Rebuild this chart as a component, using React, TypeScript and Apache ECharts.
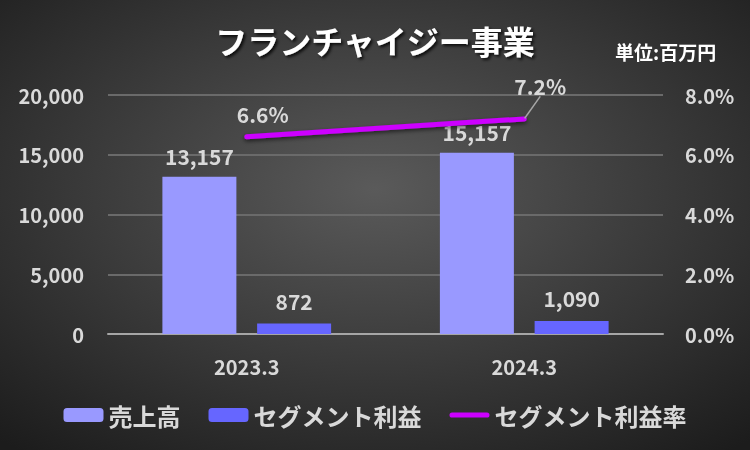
import React, { useEffect, useRef } from "react";
import * as echarts from "echarts";

const categories = ["2023.3", "2024.3"];
const salesValues = [13157, 15157];
const profitValues = [872, 1090];
const rateValues = [6.6, 7.2];
const seriesNames = ["売上高", "セグメント利益", "セグメント利益率"];

const FONT = "'Noto Sans CJK JP', 'Noto Sans', sans-serif";
const TXT = "#d9d9d9";

export default function App() {
  const ref = useRef<HTMLDivElement>(null);
  useEffect(() => {
    const chart = echarts.init(ref.current!, null, { renderer: "svg" });
    chart.setOption({
      animation: false,
      backgroundColor: new echarts.graphic.RadialGradient(0.5, 0.42, 0.75, [
        { offset: 0, color: "#5a5a5a" },
        { offset: 1, color: "#1c1c1c" },
      ]),
      textStyle: { fontFamily: FONT },
      title: [
        {
          text: "フランチャイジー事業",
          left: "center",
          top: 19,
          textStyle: {
            color: "#ffffff",
            fontSize: 32,
            fontWeight: "bold",
            fontFamily: FONT,
            textShadowColor: "rgba(0,0,0,0.8)",
            textShadowBlur: 3,
            textShadowOffsetX: 2,
            textShadowOffsetY: 2,
          },
        },
        {
          text: "単位:百万円",
          left: 610,
          top: 37,
          textStyle: { color: "#ffffff", fontSize: 19, fontWeight: "bold", fontFamily: FONT },
        },
      ],
      grid: { left: 108, right: 87, top: 95, bottom: 116, containLabel: false },
      legend: {
        bottom: 18,
        left: "center",
        itemWidth: 40,
        itemHeight: 14,
        itemGap: 28,
        textStyle: { color: TXT, fontSize: 24, fontWeight: "bold", fontFamily: FONT },
        data: [
          { name: seriesNames[0] },
          { name: seriesNames[1] },
          { name: seriesNames[2], icon: "path://M3,0 L43,0 A3,3 0 0 1 43,6 L3,6 A3,3 0 0 1 3,0 Z" },
        ],
      },
      xAxis: {
        type: "category",
        data: categories,
        axisTick: { show: false },
        axisLine: { lineStyle: { color: "#a6a6a6", width: 2 } },
        axisLabel: { color: TXT, fontSize: 20, fontWeight: "bold", margin: 22 },
      },
      yAxis: [
        {
          type: "value",
          min: 0,
          max: 20000,
          interval: 5000,
          axisLabel: {
            color: TXT,
            fontSize: 20,
            fontWeight: "bold",
            margin: 24,
            formatter: (v: number) => v.toLocaleString("en-US"),
          },
          splitLine: { lineStyle: { color: "#6a6a6a", width: 2 } },
          axisLine: { show: false },
          axisTick: { show: false },
        },
        {
          type: "value",
          min: 0,
          max: 8,
          interval: 2,
          axisLabel: {
            color: TXT,
            fontSize: 20,
            fontWeight: "bold",
            margin: 22,
            formatter: (v: number) => v.toFixed(1) + "%",
          },
          splitLine: { show: false },
          axisLine: { show: false },
          axisTick: { show: false },
        },
      ],
      series: [
        {
          name: seriesNames[0],
          type: "bar",
          data: salesValues,
          barWidth: 74,
          barGap: "28%",
          itemStyle: { color: "#9999ff" },
          label: {
            show: true,
            position: "top",
            distance: 10,
            color: TXT,
            fontSize: 21,
            fontWeight: "bold",
            formatter: (p: any) => Number(p.value).toLocaleString("en-US"),
          },
        },
        {
          name: seriesNames[1],
          type: "bar",
          data: profitValues,
          barWidth: 74,
          itemStyle: { color: "#6666ff" },
          label: {
            show: true,
            position: "top",
            distance: 12,
            color: TXT,
            fontSize: 21,
            fontWeight: "bold",
            formatter: (p: any) => Number(p.value).toLocaleString("en-US"),
          },
        },
        {
          name: seriesNames[2],
          type: "line",
          yAxisIndex: 1,
          data: [
            { value: rateValues[0], labelLine: { show: false } },
            { value: rateValues[1] },
          ],
          symbol: "circle",
          symbolSize: 1,
          showSymbol: true,
          lineStyle: {
            color: "#cc00ff",
            width: 5,
            cap: "round",
            shadowColor: "rgba(0,0,0,0.6)",
            shadowBlur: 4,
            shadowOffsetY: 2,
          },
          itemStyle: { color: "#cc00ff" },
          labelLayout: (params: any) =>
            params.dataIndex === 1 ? { dx: 16, dy: -12 } : { dx: 16, dy: -2 },
          labelLine: { show: true, lineStyle: { color: "#a6a6a6", width: 1.5 } },
          label: {
            show: true,
            position: "top",
            distance: 10,
            color: TXT,
            fontSize: 21,
            fontWeight: "bold",
            formatter: (p: any) => Number(p.value).toFixed(1) + "%",
          },
        },
      ],
    });
    return () => chart.dispose();
  }, []);
  return (
    <div
      ref={ref}
      style={{ position: "fixed", left: 0, top: 0, width: 750, height: 450 }}
    />
  );
}
